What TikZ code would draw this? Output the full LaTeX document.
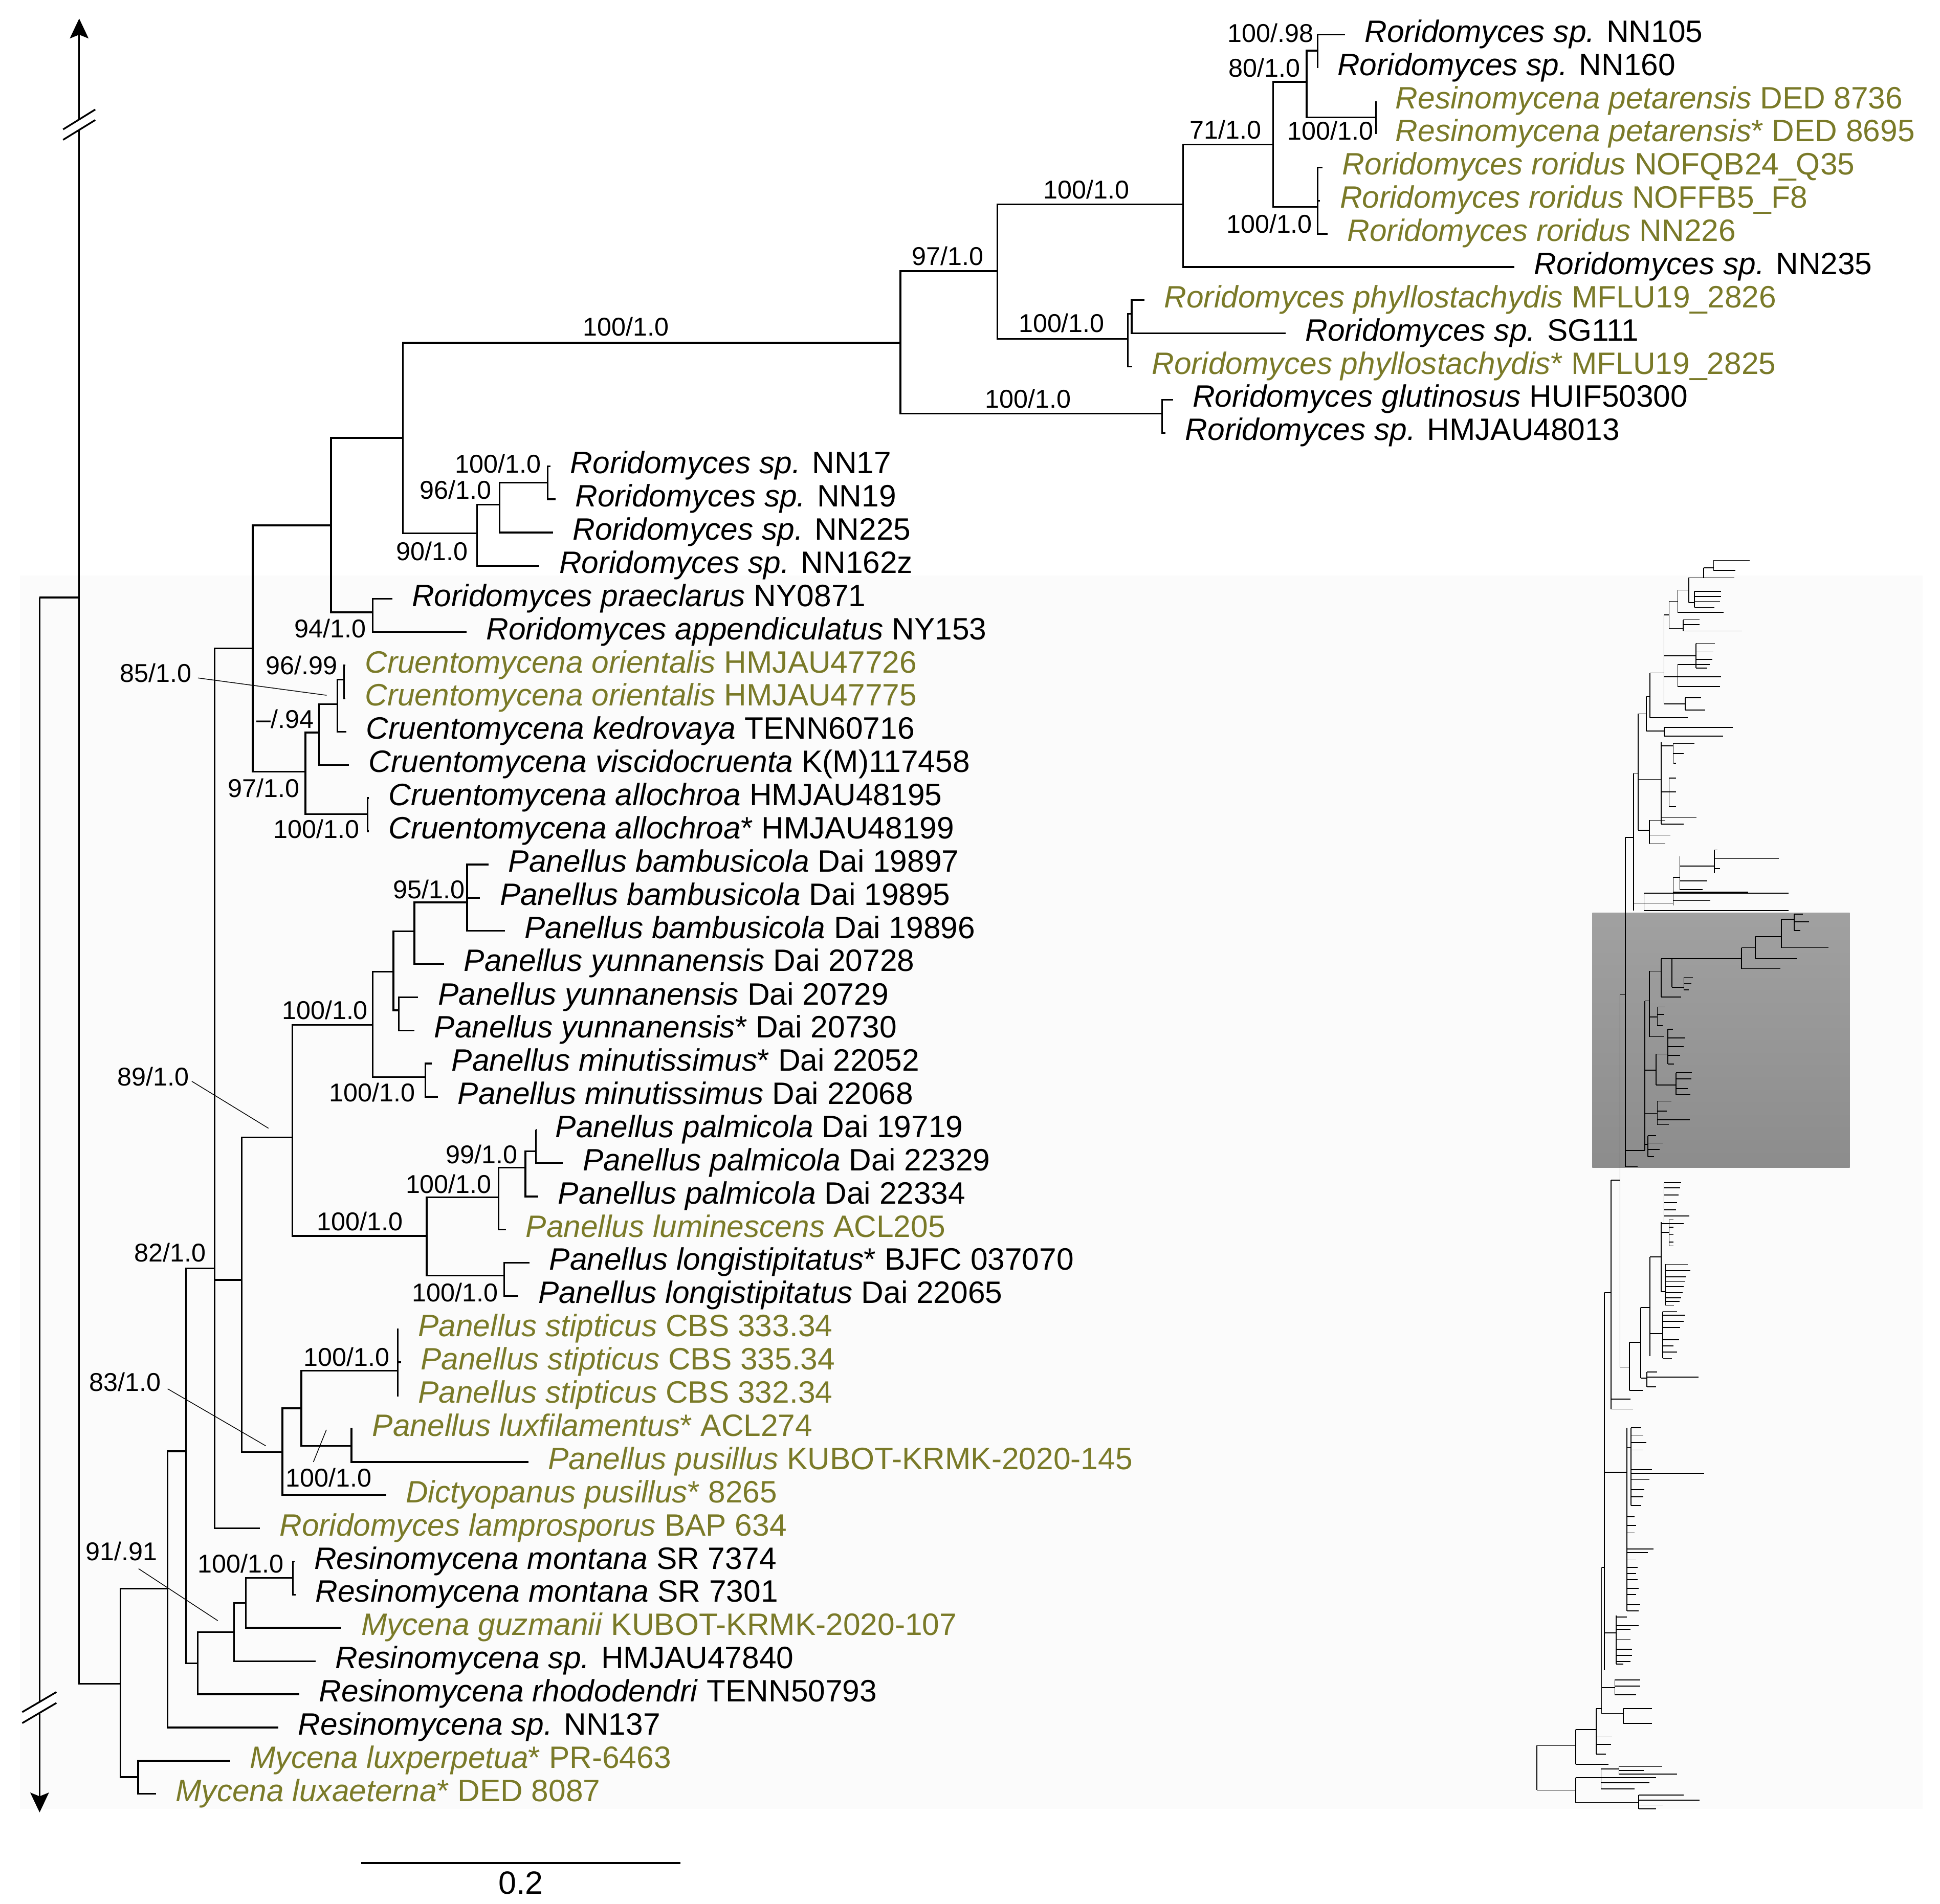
\documentclass[tikz,border=0pt]{standalone}
\usepackage{fontspec}
\setmainfont{Liberation Sans}
\usepackage{xcolor}
\usetikzlibrary{arrows.meta,positioning}
\definecolor{olivetx}{RGB}{122,122,40}
\newcommand{\taxfont}{\fontsize{12.5}{15}\selectfont}
\newcommand{\bsfont}{\fontsize{10.4}{12}\selectfont}

\begin{document}
\begin{tikzpicture}[
  x=0.5pt, y=-0.5pt,
  br/.style={line width=0.7pt, line join=miter},
  lead/.style={line width=0.3pt},
  mini/.style={line width=0.35pt},
  tax/.style={inner sep=0pt, outer sep=0pt, font=\taxfont, text height=9.4pt, text depth=3.4pt},
  taxo/.style={tax, text=olivetx},
  bs/.style={inner sep=0pt, font=\bsfont, text height=7.45pt, text depth=0pt},
  tip/.style={-{Stealth[length=8pt, width=7.5pt, inset=1.5pt]}}
]
  \useasboundingbox (0,0) rectangle (1568,1539);
  \fill[black!1.5] (16,465) rectangle (1554,1462);

  % tips
  \coordinate (t1) at (1087,28);     \coordinate (t2) at (1065,54.8);
  \coordinate (t3) at (1112,81.7);   \coordinate (t4) at (1112,108.5);
  \coordinate (t5) at (1069,135.3);  \coordinate (t6) at (1067,162.2);
  \coordinate (t7) at (1073,189);    \coordinate (t8) at (1224,215.8);
  \coordinate (t9) at (925,242.6);   \coordinate (t10) at (1039,269.5);
  \coordinate (t11) at (915,296.3);  \coordinate (t12) at (948,323.1);
  \coordinate (t13) at (942,350);    \coordinate (t14) at (445,376.8);
  \coordinate (t15) at (449,403.6);  \coordinate (t16) at (447,430.5);
  \coordinate (t17) at (436,457.3);  \coordinate (t18) at (317,484.1);
  \coordinate (t19) at (377,510.9);  \coordinate (t20) at (279,537.8);
  \coordinate (t21) at (279,564.6);  \coordinate (t22) at (280,591.4);
  \coordinate (t23) at (282,618.3);  \coordinate (t24) at (298,645.1);
  \coordinate (t25) at (298,671.9);  \coordinate (t26) at (395,698.8);
  \coordinate (t27) at (388,725.6);  \coordinate (t28) at (408,752.4);
  \coordinate (t29) at (359,779.2);  \coordinate (t30) at (338,806.1);
  \coordinate (t31) at (335,832.9);  \coordinate (t32) at (349,859.7);
  \coordinate (t33) at (354,886.6);  \coordinate (t34) at (433,913.4);
  \coordinate (t35) at (455,940.2);  \coordinate (t36) at (435,967.1);
  \coordinate (t37) at (409,993.9);  \coordinate (t38) at (428,1020.7);
  \coordinate (t39) at (419,1047.5); \coordinate (t40) at (322,1074.4);
  \coordinate (t41) at (324,1101.2); \coordinate (t42) at (322,1128);
  \coordinate (t43) at (285,1154.9); \coordinate (t44) at (427,1181.7);
  \coordinate (t45) at (312,1208.5); \coordinate (t46) at (210,1235.4);
  \coordinate (t47) at (238,1262.2); \coordinate (t48) at (239,1289);
  \coordinate (t49) at (276,1315.8); \coordinate (t50) at (255,1342.7);
  \coordinate (t51) at (242,1369.5); \coordinate (t52) at (225,1396.3);
  \coordinate (t53) at (186,1423.2); \coordinate (t54) at (126,1450);

  % inner nodes
  \coordinate (root) at (32,483);       \coordinate (up) at (64,483);
  \coordinate (upEnd) at (64,15);       \coordinate (rootEnd) at (32,1465);
  \coordinate (luxBase) at (97.5,1361); \coordinate (luxClade) at (111.7,1436.5);
  \coordinate (resA) at (135.3,1284.2); \coordinate (n82) at (150.2,1173);
  \coordinate (resB) at (159.7,1344.6); \coordinate (n91) at (189.2,1319.3);
  \coordinate (resC) at (198.8,1295.7); \coordinate (mont) at (236.7,1275.5);
  \coordinate (core) at (173.5,1025.2); \coordinate (rorCru) at (204.2,524);
  \coordinate (rorA) at (267.5,424.6);  \coordinate (n94) at (301.3,495);
  \coordinate (rorB) at (325.6,354);    \coordinate (n90) at (385.7,431);
  \coordinate (n96) at (403.8,407.8);   \coordinate (nn17) at (442.6,390);
  \coordinate (rorLong) at (727.7,277); \coordinate (n97) at (806,219.2);
  \coordinate (rorC) at (956.3,165.1);  \coordinate (n71) at (1029,116.7);
  \coordinate (n80) at (1056,66.2);     \coordinate (nn105) at (1065,41);
  \coordinate (pet) at (1112,95);       \coordinate (rori) at (1065,167.2);
  \coordinate (phyl) at (911.5,274);    \coordinate (phylB) at (914.6,253.7);
  \coordinate (glut) at (939.3,334.4);  \coordinate (cru) at (246.8,623.7);
  \coordinate (cruB) at (257.8,592.1);  \coordinate (cruC) at (272.7,569.1);
  \coordinate (orient) at (278.2,549.4); \coordinate (allo) at (297.1,658);
  \coordinate (pan) at (195.4,1034.5);  \coordinate (n89) at (236.3,919.3);
  \coordinate (panA) at (301.3,828.4);  \coordinate (panB) at (317.9,785.3);
  \coordinate (panC) at (334.9,752.7);  \coordinate (bamb) at (377.5,729.4);
  \coordinate (yunn) at (322.3,816.6);  \coordinate (minu) at (343.9,870.5);
  \coordinate (panD) at (344.8,999);    \coordinate (panE) at (403,967.7);
  \coordinate (palmA) at (424.6,943.7); \coordinate (palmB) at (433.1,930.6);
  \coordinate (longi) at (407.5,1031);  \coordinate (n83) at (228.3,1173.8);
  \coordinate (stipA) at (243.5,1138.3); \coordinate (stip) at (321.4,1108);
  \coordinate (luxf) at (284,1168.7);

  % branches
  \draw[br] (root) -- (up);
  \draw[br, tip] (up) -- (upEnd);
  \draw[br, tip] (root) -- (rootEnd);
  \foreach \p/\c in {up/luxBase, luxBase/resA, luxBase/luxClade, luxClade/t53, luxClade/t54,
      resA/n82, resA/t52, n82/core, n82/resB, resB/n91, resB/t51, n91/resC, n91/t50,
      resC/mont, resC/t49, mont/t47, mont/t48, core/rorCru, core/pan, core/t46,
      rorCru/rorA, rorCru/cru, rorA/rorB, rorA/n94, n94/t18, n94/t19,
      rorB/rorLong, rorB/n90, n90/n96, n90/t17, n96/nn17, n96/t16, nn17/t14, nn17/t15,
      rorLong/n97, rorLong/glut, n97/rorC, n97/phyl, rorC/n71, rorC/t8,
      n71/n80, n71/rori, n80/nn105, n80/pet, nn105/t1, nn105/t2, pet/t3, pet/t4,
      rori/t5, rori/t6, rori/t7, phyl/phylB, phyl/t11, phylB/t9, phylB/t10,
      glut/t12, glut/t13, cru/cruB, cru/allo, cruB/cruC, cruB/t23, cruC/orient, cruC/t22,
      orient/t20, orient/t21, allo/t24, allo/t25,
      pan/n89, pan/n83, n89/panA, n89/panD, panA/panB, panA/minu, panB/panC, panB/yunn,
      panC/bamb, panC/t29, bamb/t26, bamb/t27, bamb/t28, yunn/t30, yunn/t31,
      minu/t32, minu/t33, panD/panE, panD/longi, panE/palmA, panE/t37,
      palmA/palmB, palmA/t36, palmB/t34, palmB/t35, longi/t38, longi/t39,
      n83/stipA, n83/t45, stipA/stip, stipA/luxf, stip/t40, stip/t41, stip/t42,
      luxf/t43, luxf/t44}
    \draw[br] (\p) |- (\c);

  % axis breaks
  \fill[white] (51,104.6) -- (77,88.5) -- (77,97) -- (51,113) -- cycle;
  \draw[br] (51,104.6) -- (77,88.5) (51,113) -- (77,97);
  \fill[white] (18,1383.9) -- (45.6,1367.7) -- (45.6,1376.5) -- (18,1392.8) -- cycle;
  \draw[br] (18,1383.9) -- (45.6,1367.7) (18,1392.8) -- (45.6,1376.5);

  % taxa
  \node[tax, right=8pt of t1] (l1) {\textit{Roridomyces sp.} NN105};
  \node[tax, right=8pt of t2] (l2) {\textit{Roridomyces sp.} NN160};
  \node[taxo, right=8pt of t3] (l3) {\textit{Resinomycena petarensis} DED 8736};
  \node[taxo, right=8pt of t4] (l4) {\textit{Resinomycena petarensis}* DED 8695};
  \node[taxo, right=8pt of t5] (l5) {\textit{Roridomyces roridus} NOFQB24\_Q35};
  \node[taxo, right=8pt of t6] (l6) {\textit{Roridomyces roridus} NOFFB5\_F8};
  \node[taxo, right=8pt of t7] (l7) {\textit{Roridomyces roridus} NN226};
  \node[tax, right=8pt of t8] (l8) {\textit{Roridomyces sp.} NN235};
  \node[taxo, right=8pt of t9] (l9) {\textit{Roridomyces phyllostachydis} MFLU19\_2826};
  \node[tax, right=8pt of t10] (l10) {\textit{Roridomyces sp.} SG111};
  \node[taxo, right=8pt of t11] (l11) {\textit{Roridomyces phyllostachydis}* MFLU19\_2825};
  \node[tax, right=8pt of t12] (l12) {\textit{Roridomyces glutinosus} HUIF50300};
  \node[tax, right=8pt of t13] (l13) {\textit{Roridomyces sp.} HMJAU48013};
  \node[tax, right=8pt of t14] (l14) {\textit{Roridomyces sp.} NN17};
  \node[tax, right=8pt of t15] (l15) {\textit{Roridomyces sp.} NN19};
  \node[tax, right=8pt of t16] (l16) {\textit{Roridomyces sp.} NN225};
  \node[tax, right=8pt of t17] (l17) {\textit{Roridomyces sp.} NN162z};
  \node[tax, right=8pt of t18] (l18) {\textit{Roridomyces praeclarus} NY0871};
  \node[tax, right=8pt of t19] (l19) {\textit{Roridomyces appendiculatus} NY153};
  \node[taxo, right=8pt of t20] (l20) {\textit{Cruentomycena orientalis} HMJAU47726};
  \node[taxo, right=8pt of t21] (l21) {\textit{Cruentomycena orientalis} HMJAU47775};
  \node[tax, right=8pt of t22] (l22) {\textit{Cruentomycena kedrovaya} TENN60716};
  \node[tax, right=8pt of t23] (l23) {\textit{Cruentomycena viscidocruenta} K(M)117458};
  \node[tax, right=8pt of t24] (l24) {\textit{Cruentomycena allochroa} HMJAU48195};
  \node[tax, right=8pt of t25] (l25) {\textit{Cruentomycena allochroa}* HMJAU48199};
  \node[tax, right=8pt of t26] (l26) {\textit{Panellus bambusicola} Dai 19897};
  \node[tax, right=8pt of t27] (l27) {\textit{Panellus bambusicola} Dai 19895};
  \node[tax, right=8pt of t28] (l28) {\textit{Panellus bambusicola} Dai 19896};
  \node[tax, right=8pt of t29] (l29) {\textit{Panellus yunnanensis} Dai 20728};
  \node[tax, right=8pt of t30] (l30) {\textit{Panellus yunnanensis} Dai 20729};
  \node[tax, right=8pt of t31] (l31) {\textit{Panellus yunnanensis}* Dai 20730};
  \node[tax, right=8pt of t32] (l32) {\textit{Panellus minutissimus}* Dai 22052};
  \node[tax, right=8pt of t33] (l33) {\textit{Panellus minutissimus} Dai 22068};
  \node[tax, right=8pt of t34] (l34) {\textit{Panellus palmicola} Dai 19719};
  \node[tax, right=8pt of t35] (l35) {\textit{Panellus palmicola} Dai 22329};
  \node[tax, right=8pt of t36] (l36) {\textit{Panellus palmicola} Dai 22334};
  \node[taxo, right=8pt of t37] (l37) {\textit{Panellus luminescens} ACL205};
  \node[tax, right=8pt of t38] (l38) {\textit{Panellus longistipitatus}* BJFC 037070};
  \node[tax, right=8pt of t39] (l39) {\textit{Panellus longistipitatus} Dai 22065};
  \node[taxo, right=8pt of t40] (l40) {\textit{Panellus stipticus} CBS 333.34};
  \node[taxo, right=8pt of t41] (l41) {\textit{Panellus stipticus} CBS 335.34};
  \node[taxo, right=8pt of t42] (l42) {\textit{Panellus stipticus} CBS 332.34};
  \node[taxo, right=8pt of t43] (l43) {\textit{Panellus luxfilamentus}* ACL274};
  \node[taxo, right=8pt of t44] (l44) {\textit{Panellus pusillus} KUBOT-KRMK-2020-145};
  \node[taxo, right=8pt of t45] (l45) {\textit{Dictyopanus pusillus}* 8265};
  \node[taxo, right=8pt of t46] (l46) {\textit{Roridomyces lamprosporus} BAP 634};
  \node[tax, right=8pt of t47] (l47) {\textit{Resinomycena montana} SR 7374};
  \node[tax, right=8pt of t48] (l48) {\textit{Resinomycena montana} SR 7301};
  \node[taxo, right=8pt of t49] (l49) {\textit{Mycena guzmanii} KUBOT-KRMK-2020-107};
  \node[tax, right=8pt of t50] (l50) {\textit{Resinomycena sp.} HMJAU47840};
  \node[tax, right=8pt of t51] (l51) {\textit{Resinomycena rhododendri} TENN50793};
  \node[tax, right=8pt of t52] (l52) {\textit{Resinomycena sp.} NN137};
  \node[taxo, right=8pt of t53] (l53) {\textit{Mycena luxperpetua}* PR-6463};
  \node[taxo, right=8pt of t54] (l54) {\textit{Mycena luxaeterna}* DED 8087};

  % support values
  \node[bs, anchor=east] (s1) at (1062,26.6) {100/.98};
  \node[bs, anchor=east] (s2) at (1051.3,54.7) {80/1.0};
  \node[bs, anchor=east] (s3) at (1110.4,105.6) {100/1.0};
  \node[bs, anchor=east] (s4) at (1020,105) {71/1.0};
  \node[bs, anchor=east] (s5) at (1061,181) {100/1.0};
  \node[bs] (s6) at (878,153.3) {100/1.0};
  \node[bs] (s7) at (766,207) {97/1.0};
  \node[bs] (s8) at (858,261) {100/1.0};
  \node[bs] (s9) at (831,322.5) {100/1.0};
  \node[bs] (s10) at (506,264) {100/1.0};
  \node[bs, anchor=east] (s11) at (437.6,375) {100/1.0};
  \node[bs, anchor=east] (s12) at (397.5,396) {96/1.0};
  \node[bs, anchor=east] (s13) at (378.5,445.5) {90/1.0};
  \node[bs, anchor=east] (s14) at (296.2,508) {94/1.0};
  \node[bs, anchor=east] (s15) at (273,537.7) {96/.99};
  \node[bs, anchor=east] (s16) at (155.1,544) {85/1.0};
  \node[bs, anchor=east] (s17) at (254,581.1) {–/.94};
  \node[bs, anchor=east] (s18) at (242.4,637) {97/1.0};
  \node[bs, anchor=east] (s19) at (291,670) {100/1.0};
  \node[bs, anchor=east] (s20) at (376.2,718.9) {95/1.0};
  \node[bs, anchor=east] (s21) at (297.7,816.6) {100/1.0};
  \node[bs, anchor=east] (s22) at (335.8,883) {100/1.0};
  \node[bs, anchor=east] (s23) at (153,870) {89/1.0};
  \node[bs, anchor=east] (s24) at (418.7,933) {99/1.0};
  \node[bs, anchor=east] (s25) at (397.7,957) {100/1.0};
  \node[bs, anchor=east] (s26) at (325.9,987) {100/1.0};
  \node[bs, anchor=east] (s27) at (166.7,1012.6) {82/1.0};
  \node[bs, anchor=east] (s28) at (403,1044.6) {100/1.0};
  \node[bs, anchor=east] (s29) at (315.4,1096.6) {100/1.0};
  \node[bs, anchor=east] (s30) at (130.4,1117) {83/1.0};
  \node[bs] (s31) at (265.6,1194.5) {100/1.0};
  \node[bs, anchor=east] (s32) at (229.8,1264) {100/1.0};
  \node[bs, anchor=east] (s33) at (127.4,1254) {91/.91};

  % leader lines
  \coordinate (a85) at (160,548);    \coordinate (b85) at (264,562);
  \coordinate (a89) at (155,874);    \coordinate (b89) at (217,912);
  \coordinate (a83) at (135.5,1122.6); \coordinate (b83) at (214.8,1168.7);
  \coordinate (a91) at (112,1268);   \coordinate (b91) at (176,1310);
  \coordinate (a100) at (253.3,1181.7); \coordinate (b100) at (263.8,1155.7);
  \foreach \a/\b in {a85/b85, a89/b89, a83/b83, a91/b91, a100/b100}
    \draw[lead] (\a) -- (\b);

  % scale bar
  \coordinate (sbL) at (292,1506);
  \coordinate (sbR) at (550,1506);
  \draw[line width=0.8pt] (sbL) -- (sbR);
  \node[inner sep=0pt, font=\fontsize{13}{15}\selectfont] (sc) at (421,1522) {0.2};

  % overview tree
  \shade[top color=black!37, bottom color=black!45] (1287,738) rectangle (1495,944);
  \foreach \x/\ya/\yb in {1313.8/677/943, 1309.3/804/1105, 1302/954/1139, 1296.7/1045/1350,
      1294.5/1267/1385, 1290/1381/1418, 1273.7/1398/1426, 1273.7/1437/1457, 1242/1411/1447,
      1320.2/625/736, 1324/577/671, 1330.5/563/591, 1333.5/544/580, 1344.9/497/569,
      1349/486/508, 1356/477/495, 1365/467/487, 1369.5/478/491, 1377/459/467, 1385/453/461,
      1360.3/501/510, 1370.6/520/540, 1356/537/555, 1362/564/574, 1345/588/595,
      1342.7/600/666, 1352.4/601/617, 1349/629/652, 1333/663/682, 1328.8/722/736,
      1352.4/709/732, 1357.7/692/719, 1385.6/687/706,
      1329.4/809/930, 1333/785/838, 1342.7/775/806, 1351.3/775/798, 1361/790/800,
      1407.6/766/783, 1418.8/757/775, 1439.7/743/766, 1450/739/752, 1339.5/814/829,
      1348/832/860, 1338.4/852/877, 1354.5/867/885, 1339.5/890/909, 1332/918/935,
      1317/1085/1124, 1326.2/1057/1114, 1331/1109/1121, 1333.5/1016/1096,
      1343.8/1060/1098, 1342.7/988/1044, 1344.9/956/989, 1349/986/1007,
      1345.9/1022/1055, 1314.9/1154/1302, 1318.1/1154/1217, 1306.3/1306/1345,
      1305.2/1358/1370, 1312/1381/1393, 1294/1430/1446, 1308.5/1428/1434, 1324.5/1451/1462}
    \draw[mini] (\x,\ya) -- (\x,\yb);
  \foreach \xa/\y/\xb in {1309.3/804/1313.8, 1302/954/1309.3, 1296.7/1045/1302,
      1294.5/1267/1296.7, 1290/1381/1294.5, 1273.7/1398/1290, 1242/1411/1273.7,
      1242/1447/1273.7, 1273.7/1426/1300, 1273.7/1437/1294, 1273.7/1457/1324.5,
      1313.8/677/1320.2, 1320.2/625/1324, 1324/577/1330.5, 1330.5/563/1333.5,
      1333.5/544/1344.9, 1344.9/497/1349, 1349/486/1356, 1356/477/1365, 1365/467/1377,
      1377/459/1385, 1377/467/1401.6, 1385/453/1414, 1385/461/1402.7, 1365/487/1369.5,
      1369.5/478/1391, 1369.5/482/1391, 1369.5/486/1390, 1369.5/491/1385.6, 1356/495/1393,
      1349/508/1360.3, 1360.3/501/1373.8, 1360.3/505/1373.8, 1360.3/510/1408,
      1344.9/530/1370.6, 1370.6/520/1386, 1370.6/527/1385, 1370.6/533/1384, 1370.6/540/1380,
      1344.9/547/1356, 1356/537/1382, 1356/547/1391, 1356/555/1390,
      1344.9/569/1362, 1362/564/1375, 1362/574/1378, 1333.5/580/1364,
      1330.5/591/1345, 1345/588/1400.5, 1345/595/1392.6,
      1324/630/1342.7, 1342.7/603/1352.4, 1352.4/601/1369.5, 1352.4/609/1361, 1352.4/617/1354.5,
      1342.7/640/1349, 1349/629/1354.5, 1349/640/1354.5, 1349/652/1354.5,
      1342.7/661/1371.2, 1342.7/666/1361, 1324/671/1333, 1333/663/1346, 1333/675/1350.2,
      1333/682/1346, 1320.2/730/1328.8, 1328.8/722/1445.5, 1328.8/736/1445.5,
      1328.8/730/1352.4, 1352.4/721/1413, 1352.4/728/1382.3, 1352.4/709/1357.7,
      1357.7/700/1385.6, 1385.6/694/1437.6, 1385.6/687/1388, 1385.6/702/1390,
      1357.7/712/1380, 1357.7/719/1376,
      1313.8/930/1329.4, 1329.4/809/1333, 1333/785/1342.7, 1342.7/775/1351.3,
      1351.3/775/1407.6, 1407.6/766/1418.8, 1407.6/783/1439, 1418.8/757/1439.7,
      1418.8/775/1452, 1439.7/766/1477.7, 1439.7/743/1450, 1450/739/1457, 1450/745/1462,
      1450/752/1455, 1351.3/798/1361, 1361/790/1368.4, 1361/795/1367, 1361/800/1365,
      1342.7/806/1358.8, 1333/822/1339.5, 1339.5/814/1346, 1339.5/820/1345, 1339.5/829/1344,
      1333/838/1345, 1329.4/865/1338.4, 1338.4/852/1348, 1348/832/1352, 1348/839/1362,
      1348/846/1361, 1348/853/1358, 1348/860/1353, 1338.4/877/1354.5, 1354.5/867/1367.3,
      1354.5/872/1367, 1354.5/880/1364, 1354.5/885/1366, 1329.4/900/1339.5,
      1339.5/890/1350.8, 1339.5/898/1347, 1339.5/905/1365.6, 1339.5/909/1349,
      1329.4/925/1332, 1332/918/1338.4, 1332/924/1343.8, 1332/929/1341.5, 1332/935/1337,
      1313.8/943/1323.4,
      1309.3/1105/1317, 1317/1124/1327.7, 1317/1085/1326.2, 1326.2/1114/1331,
      1331/1109/1339.5, 1331/1113/1372.7, 1331/1121/1338.4, 1326.2/1057/1333.5,
      1333.5/1078/1343.8, 1343.8/1060/1355.6, 1343.8/1063/1362, 1343.8/1068/1361,
      1343.8/1073/1358, 1343.8/1083/1357, 1343.8/1088/1352.4, 1343.8/1093/1355.6,
      1343.8/1098/1351.3, 1333.5/1016/1342.7, 1342.7/989/1344.9, 1344.9/956/1358.8,
      1344.9/960/1358, 1344.9/966/1356.7, 1344.9/972/1355.6, 1344.9/978/1354.5,
      1344.9/983/1365.2, 1344.9/989/1361, 1342.7/996/1349, 1349/986/1352.4,
      1349/992/1352.4, 1349/998/1352.4, 1349/1004/1352.4, 1349/1007/1352.4,
      1342.7/1044/1345.9, 1345.9/1022/1364, 1345.9/1027/1366, 1345.9/1032/1363,
      1345.9/1036/1362, 1345.9/1040/1361, 1345.9/1045/1360, 1345.9/1049/1358.8,
      1345.9/1052/1357.7, 1345.9/1055/1353, 1302/1139/1319.8, 1302/1131/1318,
      1296.7/1190/1314.9, 1314.9/1170/1318.1, 1318.1/1154/1326.6, 1318.1/1160/1328,
      1318.1/1166/1330.5, 1318.1/1172/1328, 1318.1/1188/1335.2, 1318.1/1191/1377.3,
      1318.1/1196/1333, 1318.1/1204/1328.8, 1318.1/1210/1328, 1318.1/1217/1326.6,
      1314.9/1226/1321.3, 1314.9/1233/1322.4, 1314.9/1239/1321.3, 1314.9/1252/1336.3,
      1314.9/1255/1332, 1314.9/1261/1322.4, 1314.9/1267/1323.4, 1314.9/1272/1322.4,
      1314.9/1277/1323.4, 1314.9/1284/1324.5, 1314.9/1289/1322.4, 1314.9/1297/1325.5,
      1314.9/1302/1324.5, 1296.7/1320/1306.3, 1306.3/1307/1314.9, 1306.3/1314/1324.5,
      1306.3/1317/1318, 1306.3/1325/1318, 1306.3/1333/1319, 1306.3/1338/1319,
      1306.3/1343/1318, 1306.3/1345/1312, 1294.5/1364/1305.2, 1305.2/1358/1325.6,
      1305.2/1363/1325.6, 1305.2/1370/1322.4, 1294.5/1385/1312, 1312/1381/1335.2,
      1312/1393/1335.2, 1290/1404/1303, 1290/1410/1302, 1290/1418/1298,
      1294/1430/1308.5, 1308.5/1428/1343.4, 1308.5/1431/1328.4, 1308.5/1434/1355.6,
      1294/1437/1338.4, 1294/1441/1333, 1294/1446/1321.3, 1324.5/1451/1361,
      1324.5/1455/1373.8, 1324.5/1459/1343.8, 1324.5/1462/1338.4}
    \draw[mini] (\xa,\y) -- (\xb,\y);
\end{tikzpicture}
\end{document}
